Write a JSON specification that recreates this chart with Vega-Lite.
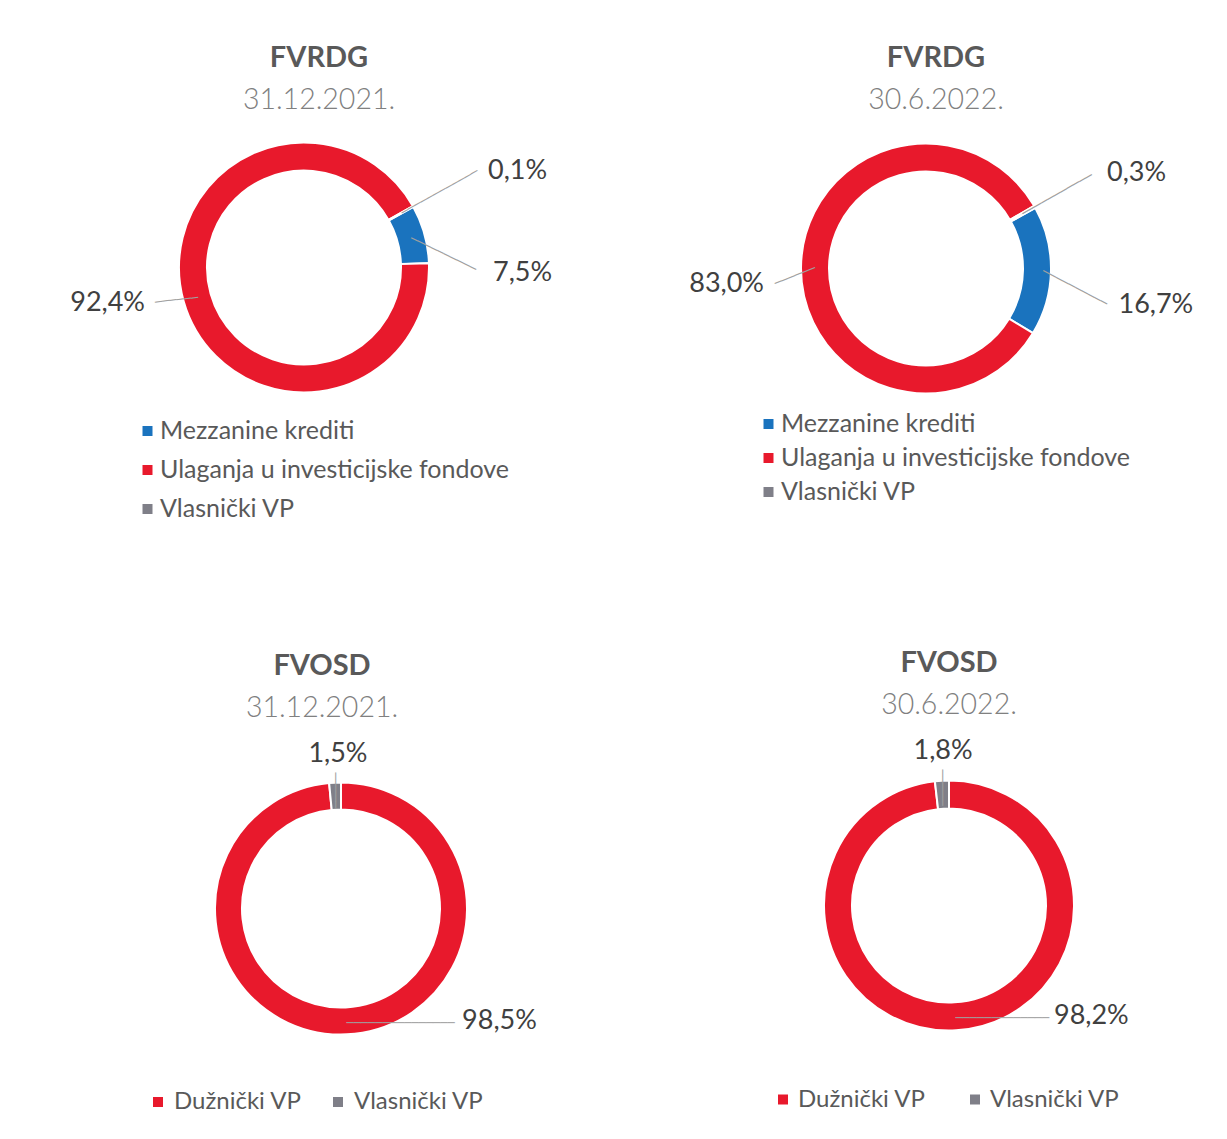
{
  "$schema": "https://vega.github.io/schema/vega-lite/v6.json",
  "background": "#ffffff",
  "padding": {"left": 0, "top": 43.5, "right": 0, "bottom": 0},
  "bounds": "flush",
  "data": {
    "values": [
      {"panel": "p1", "category": "Mezzanine krediti", "value": 0.075},
      {"panel": "p1", "category": "Ulaganja u investicijske fondove", "value": 0.924},
      {"panel": "p1", "category": "Vlasnički VP", "value": 0.001},
      {"panel": "p2", "category": "Mezzanine krediti", "value": 0.167},
      {"panel": "p2", "category": "Ulaganja u investicijske fondove", "value": 0.830},
      {"panel": "p2", "category": "Vlasnički VP", "value": 0.003},
      {"panel": "p3", "category": "Dužnički VP", "value": 0.985},
      {"panel": "p3", "category": "Vlasnički VP", "value": 0.015},
      {"panel": "p4", "category": "Dužnički VP", "value": 0.982},
      {"panel": "p4", "category": "Vlasnički VP", "value": 0.018}
    ]
  },
  "spacing": 639.5,
  "resolve": {"scale": {"color": "independent", "theta": "independent"}, "legend": {"color": "independent"}},
  "vconcat": [
    {
      "spacing": 23,
      "bounds": "flush",
      "resolve": {"scale": {"color": "independent", "theta": "independent"}, "legend": {"color": "independent"}},
      "hconcat": [
        {
          "width": 608, "height": 260,
          "title": {"text": "FVRDG", "subtitle": "31.12.2021.", "dx": 15, "offset": 23},
          "transform": [{"filter": "datum.panel === 'p1'"}],
          "encoding": {
            "theta": {"field": "value", "type": "quantitative", "stack": true, "scale": {"domain": [0, 1], "range": [1.0647, 7.3479]}},
            "order": {"field": "category", "type": "ordinal", "sort": "ascending"},
            "detail": {"field": "category", "type": "nominal"}
          },
          "layer": [
            {
              "mark": {"type": "arc", "innerRadius": 97, "outerRadius": 125, "stroke": "#ffffff", "strokeWidth": 2},
              "encoding": {
                "color": {
                  "field": "category", "type": "nominal",
                  "scale": {"domain": ["Mezzanine krediti", "Ulaganja u investicijske fondove", "Vlasnički VP"], "range": ["#1a73be", "#e8192c", "#7f7f88"]},
                  "legend": {"orient": "none", "legendX": 135, "legendY": 281, "direction": "vertical", "rowPadding": 13, "labelOffset": 0, "labelFontSize": 25, "title": null}
                }
              }
            },
            {"mark": {"type": "text", "radius": 112, "angle": -29.2, "align": "left", "baseline": "middle", "font": "DejaVu Sans Mono", "fontSize": 12, "color": "#a0a0a0"},
             "encoding": {"text": {"condition": {"test": "datum.category === 'Vlasnički VP'", "value": "────────────"}, "value": ""}}},
            {"mark": {"type": "text", "radius": 111, "angle": 26, "align": "left", "baseline": "middle", "font": "DejaVu Sans Mono", "fontSize": 12, "color": "#a0a0a0"},
             "encoding": {"text": {"condition": {"test": "datum.category === 'Mezzanine krediti'", "value": "──────────"}, "value": ""}}},
            {"mark": {"type": "text", "radius": 110, "angle": 173.8, "align": "left", "baseline": "middle", "font": "DejaVu Sans Mono", "fontSize": 12, "color": "#a0a0a0"},
             "encoding": {"text": {"condition": {"test": "datum.category === 'Ulaganja u investicijske fondove'", "value": "──────"}, "value": ""}}},
            {"mark": {"type": "text", "radius": 150, "dx": 53, "dy": -23, "align": "left", "baseline": "middle", "font": "Lato", "fontSize": 27, "color": "#404040"},
             "encoding": {"text": {"condition": {"test": "datum.category === 'Vlasnički VP'", "field": "value", "type": "quantitative", "format": ".1%"}, "value": ""}}},
            {"mark": {"type": "text", "radius": 150, "dx": 44.5, "dy": 46, "align": "left", "baseline": "middle", "font": "Lato", "fontSize": 27, "color": "#404040"},
             "encoding": {"text": {"condition": {"test": "datum.category === 'Mezzanine krediti'", "field": "value", "type": "quantitative", "format": ".1%"}, "value": ""}}},
            {"mark": {"type": "text", "radius": 150, "dx": -14.6, "dy": -4.6, "align": "right", "baseline": "middle", "font": "Lato", "fontSize": 27, "color": "#404040"},
             "encoding": {"text": {"condition": {"test": "datum.category === 'Ulaganja u investicijske fondove'", "field": "value", "type": "quantitative", "format": ".1%"}, "value": ""}}}
          ]
        },
        {
          "width": 590, "height": 262,
          "title": {"text": "FVRDG", "subtitle": "30.6.2022.", "dx": 10, "offset": 23},
          "transform": [{"filter": "datum.panel === 'p2'"}],
          "encoding": {
            "theta": {"field": "value", "type": "quantitative", "stack": true, "scale": {"domain": [0, 1], "range": [1.0647, 7.3479]}},
            "order": {"field": "category", "type": "ordinal", "sort": "ascending"},
            "detail": {"field": "category", "type": "nominal"}
          },
          "layer": [
            {
              "mark": {"type": "arc", "innerRadius": 97, "outerRadius": 125, "stroke": "#ffffff", "strokeWidth": 2},
              "encoding": {
                "color": {
                  "field": "category", "type": "nominal",
                  "scale": {"domain": ["Mezzanine krediti", "Ulaganja u investicijske fondove", "Vlasnički VP"], "range": ["#1a73be", "#e8192c", "#7f7f88"]},
                  "legend": {"orient": "none", "legendX": 125, "legendY": 274, "direction": "vertical", "rowPadding": 8, "labelOffset": 0, "labelFontSize": 25, "title": null}
                }
              }
            },
            {"mark": {"type": "text", "radius": 111, "angle": -29.5, "align": "left", "baseline": "middle", "font": "DejaVu Sans Mono", "fontSize": 12, "color": "#a0a0a0"},
             "encoding": {"text": {"condition": {"test": "datum.category === 'Vlasnički VP'", "value": "───────────"}, "value": ""}}},
            {"mark": {"type": "text", "radius": 117, "angle": 27.6, "align": "left", "baseline": "middle", "font": "DejaVu Sans Mono", "fontSize": 12, "color": "#a0a0a0"},
             "encoding": {"text": {"condition": {"test": "datum.category === 'Mezzanine krediti'", "value": "──────────"}, "value": ""}}},
            {"mark": {"type": "text", "radius": 111, "angle": 158.4, "align": "left", "baseline": "middle", "font": "DejaVu Sans Mono", "fontSize": 12, "color": "#a0a0a0"},
             "encoding": {"text": {"condition": {"test": "datum.category === 'Ulaganja u investicijske fondove'", "value": "──────"}, "value": ""}}},
            {"mark": {"type": "text", "radius": 150, "dx": 50.5, "dy": -21.5, "align": "left", "baseline": "middle", "font": "Lato", "fontSize": 27, "color": "#404040"},
             "encoding": {"text": {"condition": {"test": "datum.category === 'Vlasnički VP'", "field": "value", "type": "quantitative", "format": ".1%"}, "value": ""}}},
            {"mark": {"type": "text", "radius": 150, "dx": 42.5, "dy": 34, "align": "left", "baseline": "middle", "font": "Lato", "fontSize": 27, "color": "#404040"},
             "encoding": {"text": {"condition": {"test": "datum.category === 'Mezzanine krediti'", "field": "value", "type": "quantitative", "format": ".1%"}, "value": ""}}},
            {"mark": {"type": "text", "radius": 150, "dx": -12, "dy": 17, "align": "right", "baseline": "middle", "font": "Lato", "fontSize": 27, "color": "#404040"},
             "encoding": {"text": {"condition": {"test": "datum.category === 'Ulaganja u investicijske fondove'", "field": "value", "type": "quantitative", "format": ".1%"}, "value": ""}}}
          ]
        }
      ]
    },
    {
      "spacing": 0,
      "bounds": "flush",
      "resolve": {"scale": {"color": "independent", "theta": "independent"}, "legend": {"color": "independent"}},
      "hconcat": [
        {
          "width": 682, "height": 263,
          "title": {"text": "FVOSD", "subtitle": "31.12.2021.", "dx": -19, "offset": -14.5},
          "transform": [{"filter": "datum.panel === 'p3'"}],
          "encoding": {
            "theta": {"field": "value", "type": "quantitative", "stack": true, "scale": {"domain": [0, 1], "range": [0, 6.28319]}},
            "order": {"field": "category", "type": "ordinal", "sort": "ascending"},
            "detail": {"field": "category", "type": "nominal"}
          },
          "layer": [
            {
              "mark": {"type": "arc", "innerRadius": 99, "outerRadius": 126, "stroke": "#ffffff", "strokeWidth": 2},
              "encoding": {
                "color": {
                  "field": "category", "type": "nominal",
                  "scale": {"domain": ["Dužnički VP", "Vlasnički VP"], "range": ["#e8192c", "#7f7f88"]},
                  "legend": {"orient": "none", "legendX": 146, "legendY": 313, "direction": "horizontal", "columns": 2, "columnPadding": 24, "labelOffset": 4, "title": null}
                }
              }
            },
            {"mark": {"type": "text", "radius": 100, "angle": -90, "align": "left", "baseline": "middle", "font": "DejaVu Sans Mono", "fontSize": 12, "color": "#a0a0a0"},
             "encoding": {"text": {"condition": {"test": "datum.category === 'Vlasnički VP'", "value": "─────"}, "value": ""}}},
            {"mark": {"type": "text", "radius": 115, "angle": 0, "align": "left", "baseline": "middle", "font": "DejaVu Sans Mono", "fontSize": 12, "color": "#a0a0a0"},
             "encoding": {"text": {"condition": {"test": "datum.category === 'Dužnički VP'", "value": "───────────────"}, "value": ""}}},
            {"mark": {"type": "text", "radius": 150, "dx": 4, "dy": -5, "align": "center", "baseline": "middle", "font": "Lato", "fontSize": 27, "color": "#404040"},
             "encoding": {"text": {"condition": {"test": "datum.category === 'Vlasnički VP'", "field": "value", "type": "quantitative", "format": ".1%"}, "value": ""}}},
            {"mark": {"type": "text", "radius": 150, "dx": 114, "dy": -37, "align": "left", "baseline": "middle", "font": "Lato", "fontSize": 27, "color": "#404040"},
             "encoding": {"text": {"condition": {"test": "datum.category === 'Dužnički VP'", "field": "value", "type": "quantitative", "format": ".1%"}, "value": ""}}}
          ]
        },
        {
          "width": 534, "height": 257,
          "title": {"text": "FVOSD", "subtitle": "30.6.2022.", "dx": 0, "offset": -17},
          "transform": [{"filter": "datum.panel === 'p4'"}],
          "encoding": {
            "theta": {"field": "value", "type": "quantitative", "stack": true, "scale": {"domain": [0, 1], "range": [0, 6.28319]}},
            "order": {"field": "category", "type": "ordinal", "sort": "ascending"},
            "detail": {"field": "category", "type": "nominal"}
          },
          "layer": [
            {
              "mark": {"type": "arc", "innerRadius": 97, "outerRadius": 125, "stroke": "#ffffff", "strokeWidth": 2},
              "encoding": {
                "color": {
                  "field": "category", "type": "nominal",
                  "scale": {"domain": ["Dužnički VP", "Vlasnički VP"], "range": ["#e8192c", "#7f7f88"]},
                  "legend": {"orient": "none", "legendX": 89, "legendY": 310.5, "direction": "horizontal", "columns": 2, "columnPadding": 37, "labelOffset": 3, "title": null}
                }
              }
            },
            {"mark": {"type": "text", "radius": 100, "angle": -90, "align": "left", "baseline": "middle", "font": "DejaVu Sans Mono", "fontSize": 12, "color": "#a0a0a0"},
             "encoding": {"text": {"condition": {"test": "datum.category === 'Vlasnički VP'", "value": "─────"}, "value": ""}}},
            {"mark": {"type": "text", "radius": 113, "angle": 0, "align": "left", "baseline": "middle", "font": "DejaVu Sans Mono", "fontSize": 12, "color": "#a0a0a0"},
             "encoding": {"text": {"condition": {"test": "datum.category === 'Dužnički VP'", "value": "─────────────"}, "value": ""}}},
            {"mark": {"type": "text", "radius": 150, "dx": 2.5, "dy": -5, "align": "center", "baseline": "middle", "font": "Lato", "fontSize": 27, "color": "#404040"},
             "encoding": {"text": {"condition": {"test": "datum.category === 'Vlasnički VP'", "field": "value", "type": "quantitative", "format": ".1%"}, "value": ""}}},
            {"mark": {"type": "text", "radius": 150, "dx": 96.5, "dy": -39, "align": "left", "baseline": "middle", "font": "Lato", "fontSize": 27, "color": "#404040"},
             "encoding": {"text": {"condition": {"test": "datum.category === 'Dužnički VP'", "field": "value", "type": "quantitative", "format": ".1%"}, "value": ""}}}
          ]
        }
      ]
    }
  ],
  "config": {
    "locale": {"number": {"decimal": ",", "thousands": ".", "grouping": [3], "currency": ["", " €"]}},
    "view": {"stroke": null},
    "title": {
      "anchor": "middle", "font": "Lato", "fontSize": 29, "fontWeight": "bold", "color": "#595959",
      "subtitleFont": "Lato", "subtitleFontSize": 28.5, "subtitleFontWeight": 300, "subtitleColor": "#808080", "subtitlePadding": 13
    },
    "legend": {
      "labelFont": "Lato", "labelFontSize": 24, "labelColor": "#595959", "labelLimit": 0,
      "symbolType": "square", "symbolSize": 100, "symbolStrokeWidth": 0, "padding": 0
    }
  }
}
